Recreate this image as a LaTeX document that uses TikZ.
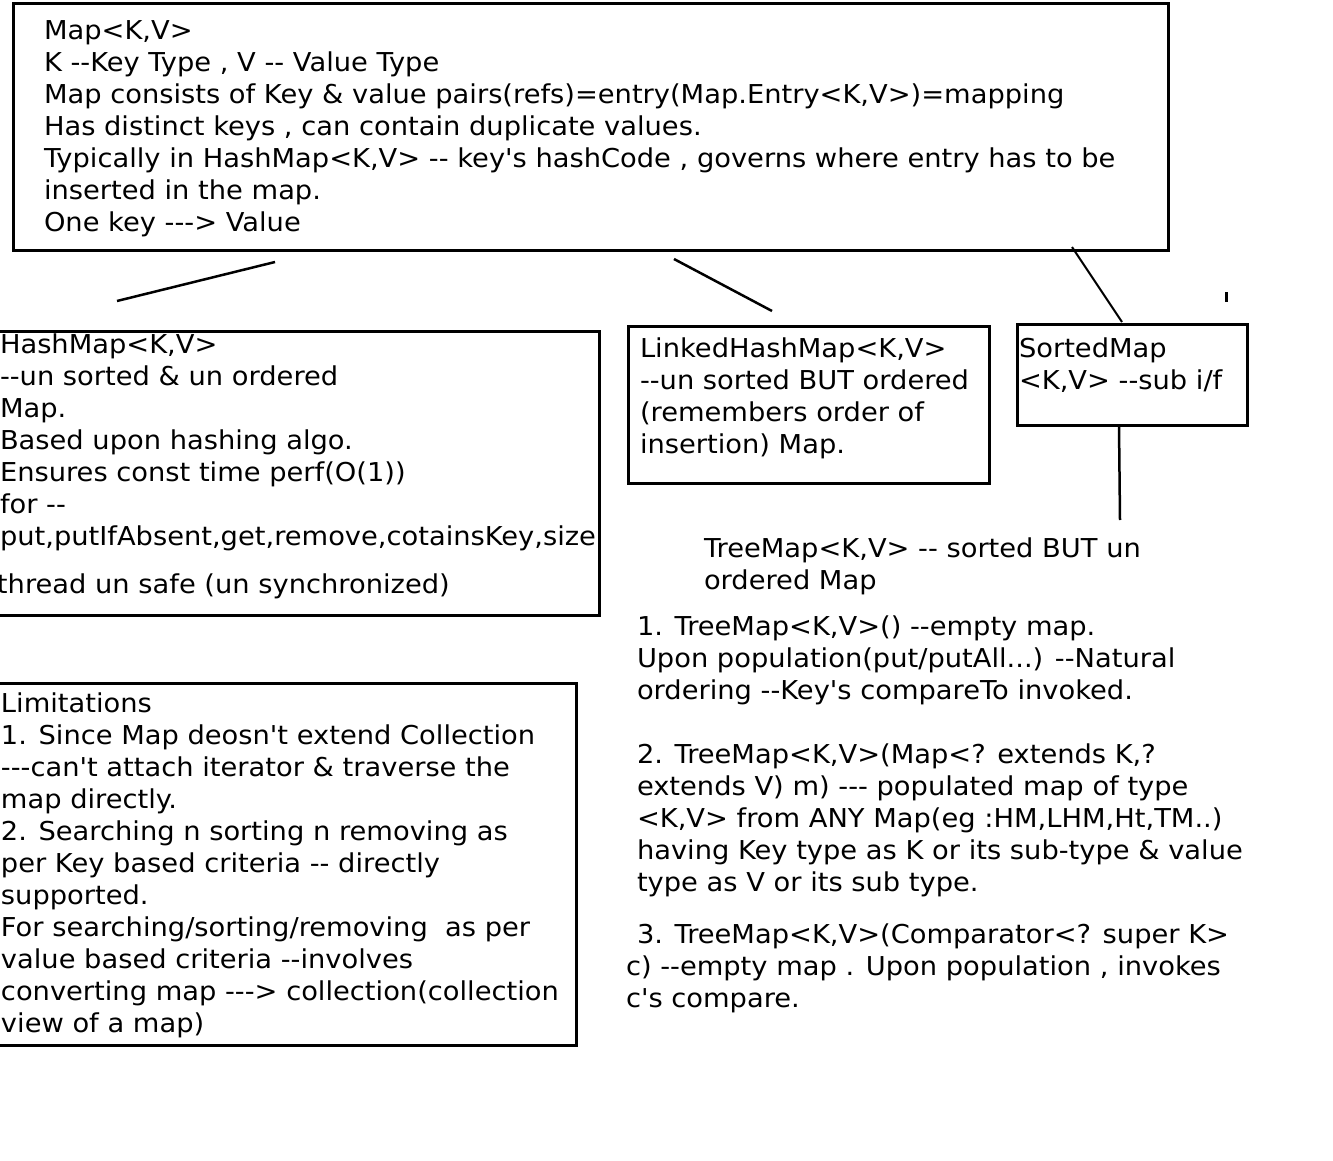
\documentclass[tikz,border=0pt]{standalone}
\usepackage{fontspec}
\newfontfamily\tahfont[FakeStretch=1.05]{DejaVu Sans}
\newcommand\tahtext{\tahfont\fontsize{26}{32}\selectfont}
\begin{document}
\begin{tikzpicture}[x=1pt,y=-1pt,
  boxstyle/.style={draw=black,line width=3pt,rectangle,inner sep=0pt,anchor=north west},
  txt/.style={anchor=base west,inner sep=0pt,outer sep=0pt,align=left,font=\tahtext,text=black},
  link/.style={draw=black,line width=2.5pt}]
\useasboundingbox[fill=white] (0,0) rectangle (1333,1161);

% boxes
\node[boxstyle,minimum width=1155pt,minimum height=247pt] (mapbox) at (12,2) {};
\node[boxstyle,minimum width=603pt,minimum height=284pt] (hmbox) at (-5,330) {};
\node[boxstyle,minimum width=361pt,minimum height=157pt] (lhmbox) at (627,325) {};
\node[boxstyle,minimum width=230pt,minimum height=101pt] (smbox) at (1016,323) {};
\node[boxstyle,minimum width=580pt,minimum height=362pt] (limbox) at (-5,682) {};

% texts (anchored at the baseline of their last line)
\node[txt] (maptxt) at (44,232) {Map<K,V>\\
K --Key Type , V -- Value Type\\
Map consists of Key \& value pairs(refs)=entry(Map.Entry<K,V>)=mapping\\
Has distinct keys , can contain duplicate values.\\
Typically in HashMap<K,V> -- key's hashCode , governs where entry has to be\\
inserted in the map.\\
One key ---> Value};

\node[txt] (hmtxt) at (0,545) {HashMap<K,V>\\
--un sorted \& un ordered\\
Map.\\
Based upon hashing algo.\\
Ensures const time perf(O(1))\\
for --\\
put,putIfAbsent,get,remove,cotainsKey,size};
\node[txt] (hmtxt2) at (-3,593) {thread un safe (un synchronized)};

\node[txt] (lhmtxt) at (640,453) {LinkedHashMap<K,V>\\
--un sorted BUT ordered\\
(remembers order of\\
insertion) Map.};

\node[txt] (smtxt) at (1019,389) {SortedMap\\
<K,V> --sub i/f};

\node[txt] (tmtxt) at (704,589) {TreeMap<K,V> -- sorted BUT un\\
ordered Map};

\node[txt] (tm1) at (637,699) {1. TreeMap<K,V>() --empty map.\\
Upon population(put/putAll...) --Natural\\
ordering --Key's compareTo invoked.};

\node[txt] (tm2) at (637,891) {2. TreeMap<K,V>(Map<? extends K,?\\
extends V) m) --- populated map of type\\
<K,V> from ANY Map(eg :HM,LHM,Ht,TM..)\\
having Key type as K or its sub-type \& value\\
type as V or its sub type.};

\node[txt] (tm3) at (626,1007) {\hspace*{11pt}3. TreeMap<K,V>(Comparator<? super K>\\
c) --empty map . Upon population , invokes\\
c's compare.};

\node[txt] (limtxt) at (1,1032) {Limitations\\
1. Since Map deosn't extend Collection\\
---can't attach iterator \& traverse the\\
map directly.\\
2. Searching n sorting n removing as\\
per Key based criteria -- directly\\
supported.\\
For searching/sorting/removing \ as per\\
value based criteria --involves\\
converting map ---> collection(collection\\
view of a map)};

% connectors
\coordinate (c1a) at (275,262);
\coordinate (c1b) at (117,301);
\coordinate (c2a) at (674,259);
\coordinate (c2b) at (772,311);
\coordinate (c3a) at (1072,247);
\coordinate (c3b) at (1122,322);
\coordinate (c4a) at (1226,292);
\coordinate (c4b) at (1226,302);
\coordinate (c5a) at (1119,426);
\coordinate (c5b) at (1120,520);
\draw[link] (c1a) -- (c1b);
\draw[link] (c2a) -- (c2b);
\draw[link,line width=2pt] (c3a) -- (c3b);
\draw[link,line width=3pt] (c4a) -- (c4b);
\draw[link] (c5a) -- (c5b);
\end{tikzpicture}
\end{document}
